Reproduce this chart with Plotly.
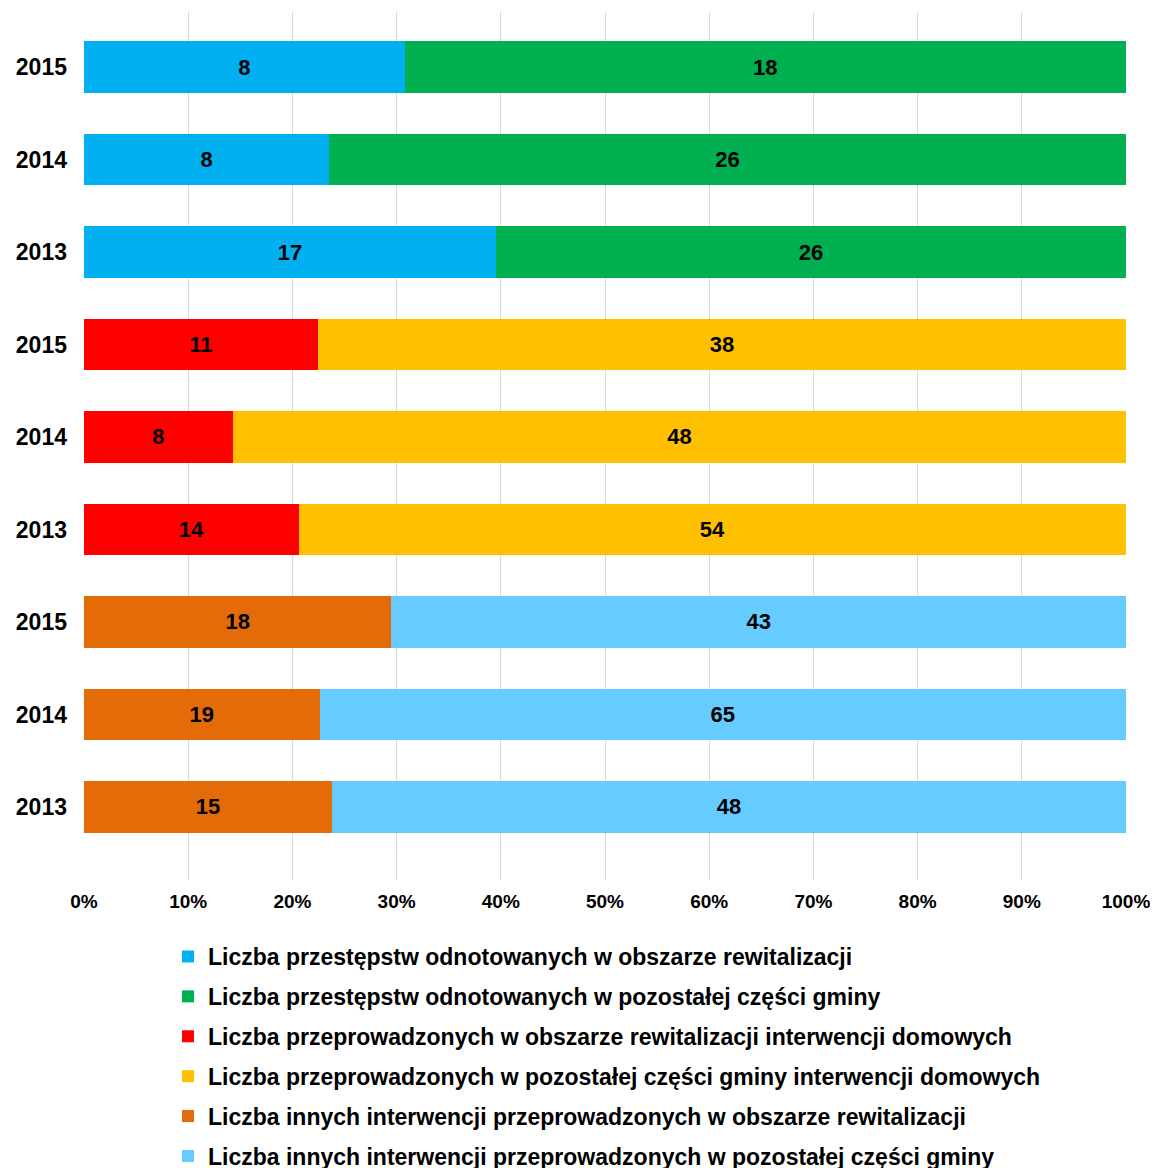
import plotly.graph_objects as go

# row labels, top to bottom (three groups of three years)
years = ["2015", "2014", "2013"]

crime_rev = [8, 8, 17]
crime_rest = [18, 26, 26]
home_rev = [11, 8, 14]
home_rest = [38, 48, 54]
other_rev = [18, 19, 15]
other_rest = [43, 65, 48]

series_names = [
    "Liczba przestępstw odnotowanych w obszarze rewitalizacji",
    "Liczba przestępstw odnotowanych w pozostałej części gminy",
    "Liczba przeprowadzonych w obszarze rewitalizacji interwencji domowych",
    "Liczba przeprowadzonych w pozostałej części gminy interwencji domowych",
    "Liczba innych interwencji przeprowadzonych w obszarze rewitalizacji",
    "Liczba innych interwencji przeprowadzonych w pozostałej części gminy",
]
colors = ["#00B0F0", "#00B050", "#FF0000", "#FFC000", "#E36C09", "#66CCFF"]

FONT = "Liberation Sans, Arial, sans-serif"

row_labels = years * 3
rows = list(range(len(row_labels)))


def group_values(values, group):
    out = [None] * len(row_labels)
    for i, v in enumerate(values):
        out[group * 3 + i] = v
    return out


all_series = [
    group_values(crime_rev, 0),
    group_values(crime_rest, 0),
    group_values(home_rev, 1),
    group_values(home_rest, 1),
    group_values(other_rev, 2),
    group_values(other_rest, 2),
]

fig = go.Figure()
for i, (name, vals) in enumerate(zip(series_names, all_series)):
    fig.add_trace(
        go.Bar(
            y=rows,
            x=vals,
            orientation="h",
            name=name,
            legendgroup=f"g{i}",
            marker=dict(color=colors[i], line_width=0),
            text=vals,
            textposition="inside",
            insidetextanchor="middle",
            textangle=0,
            textfont=dict(color="black", size=22, family=FONT, weight="bold"),
            hoverinfo="skip",
        )
    )

# the page has an 8px body margin, so margins are shifted by that much
fig.update_layout(
    barmode="stack",
    barnorm="percent",
    bargap=0.44,
    width=1158,
    height=1168,
    paper_bgcolor="white",
    plot_bgcolor="white",
    font=dict(family=FONT, color="black"),
    margin=dict(l=76, r=40, t=4, b=296, autoexpand=False),
    legend=dict(
        orientation="v",
        xref="container",
        yref="container",
        x=160 / 1158,
        y=1 - 927 / 1168,
        xanchor="left",
        yanchor="top",
        font=dict(size=23, family=FONT, weight="bold"),
        tracegroupgap=7,
        itemwidth=30,
        bgcolor="rgba(0,0,0,0)",
    ),
    uniformtext=dict(mode="show", minsize=10),
)

fig.update_xaxes(
    range=[0, 100],
    tickvals=[0, 10, 20, 30, 40, 50, 60, 70, 80, 90, 100],
    ticktext=[f"{v}%" for v in range(0, 101, 10)],
    tickfont=dict(size=19, family=FONT, weight="bold"),
    tickangle=0,
    showgrid=True,
    gridcolor="#D9D9D9",
    gridwidth=1,
    zeroline=False,
    showline=False,
    ticklabelstandoff=8,
)
fig.update_yaxes(
    tickvals=rows,
    ticktext=row_labels,
    range=[8.79, -0.595],
    tickfont=dict(size=23, family=FONT, weight="bold"),
    showgrid=False,
    zeroline=False,
    showline=False,
    ticklabelstandoff=16,
)

fig.write_html("out.html")
